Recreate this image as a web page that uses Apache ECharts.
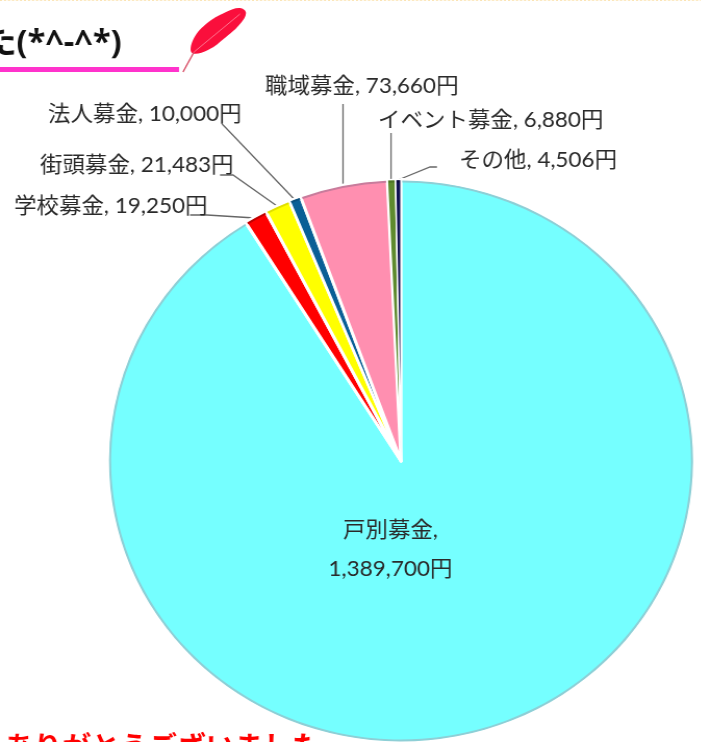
<!DOCTYPE html>
<html><head><meta charset="utf-8">
<style>html,body{margin:0;padding:0;background:#fff;overflow:hidden;width:701px;height:742px}
#c{position:absolute;left:0;top:0;transform-origin:0 0}</style>
<script src="https://cdn.jsdelivr.net/npm/echarts@6/dist/echarts.min.js"></script>
</head><body><div id="c"></div>
<script>
const categories=['戸別募金','学校募金','街頭募金','法人募金','職域募金','イベント募金','その他'];
const amounts=[1389700,19250,21483,10000,73660,6880,4506];
const sliceColors=['#75FFFF','#FF0000','#FFFF00','#0A5F96','#FF8FB0','#5E8A2E','#0F1050'];
const rimColors=['#8ECFD6','#C00000','#E0E000','#0A4F7E','#C87C9C','#4E7426','#0A0A3A'];
const sliceBorders=[3,3,3,2.5,3,1.6,1.4];
const labelX=[390.5,14,40,48,265,378,459];
const labelY=[550,206,165,114,86,120,160];
const leaders=[null,
 [[190,215],[207,215],[255,218]],
 [[220,175],[233,175],[277,206]],
 [[222,124],[226,128],[295,200]],
 [[343,104],[343,140],[343,186]],
 [[391,133],[391,150],[391,181]],
 [[437,167],[430,167],[398,180]]];
const S=1.041;
const el=document.getElementById('c');
const W=701/S;
el.style.width=W+'px';el.style.height='742px';el.style.transform='scaleX('+S+')';
const chart=echarts.init(el,null,{renderer:'canvas'});
const font='Lato, "Noto Sans CJK JP", sans-serif';
const fmt=v=>v.toLocaleString('en-US')+'円';
chart.setOption({
 animation:false,
 graphic:[{type:'group',scaleX:1/S,children:[
  {type:'line',shape:{x1:0,y1:0.5,x2:701,y2:0.5},style:{stroke:'#FBE3B0',lineWidth:1,lineDash:[2,2]},silent:true},
  {type:'text',x:-16,y:27,style:{text:'た(*^-^*)',font:'bold 32.5px "Open Sans","Noto Sans CJK JP",sans-serif',fill:'#111',shadowBlur:3,shadowColor:'rgba(0,0,0,0.4)',shadowOffsetX:1,shadowOffsetY:1}},
  {type:'rect',shape:{x:0,y:67,width:179,height:5},style:{fill:'#FF33CC'}},
  {type:'polygon',shape:{points:[[192,53],[193,40],[206,24],[226,12],[240,8],[246,13],[240,24],[226,37],[208,50]],smooth:0.4},style:{fill:'#FA0F3C'}},
  {type:'line',shape:{x1:183,y1:72,x2:194,y2:52},style:{stroke:'#D85068',lineWidth:1.5}},
  {type:'line',shape:{x1:194,y1:52,x2:240,y2:14},style:{stroke:'#FF8FA5',lineWidth:0.8}},
  {type:'text',x:5,y:732,style:{text:'ありがとうございました',font:'bold 28.7px "Noto Sans CJK JP",sans-serif',fill:'#FF0000'}}
 ]}],
 series:[{
  type:'pie',
  center:[401/S,461],
  radius:[0,281.5],
  startAngle:90,
  clockwise:true,
  minAngle:0,
  avoidLabelOverlap:false,
  itemStyle:{borderColor:'#fff',borderWidth:3},
  emphasis:{disabled:true},
  data:categories.map((n,i)=>({name:n,value:amounts[i],itemStyle:{color:sliceColors[i],borderWidth:sliceBorders[i]},labelLine:{show:i>0}})),
  label:{show:true,position:'outside',color:'#2a2a2a',fontFamily:font,fontSize:21.6,lineHeight:39,
   formatter:p=>p.dataIndex===0?p.name+',\n'+fmt(p.value):p.name+', '+fmt(p.value)},
  labelLine:{show:true,length:10,length2:10,lineStyle:{color:'#666',width:1.3}},
  labelLayout:p=>{
   const i=p.dataIndex;
   const o={x:labelX[i]/S,y:labelY[i],align:i===0?'center':'left',verticalAlign:'middle',moveOverlap:false,hideOverlap:false};
   if(leaders[i])o.labelLinePoints=leaders[i].map(q=>[q[0]/S,q[1]]);
   return o;
  }
 },{
  type:'pie',
  silent:true,
  center:[401/S,461],
  radius:[278.5,280.5],
  startAngle:90,
  clockwise:true,
  padAngle:0.5,
  label:{show:false},labelLine:{show:false},
  emphasis:{disabled:true},
  data:categories.map((n,i)=>({name:n,value:amounts[i],itemStyle:{color:rimColors[i]}}))
 }]
});
</script></body></html>
